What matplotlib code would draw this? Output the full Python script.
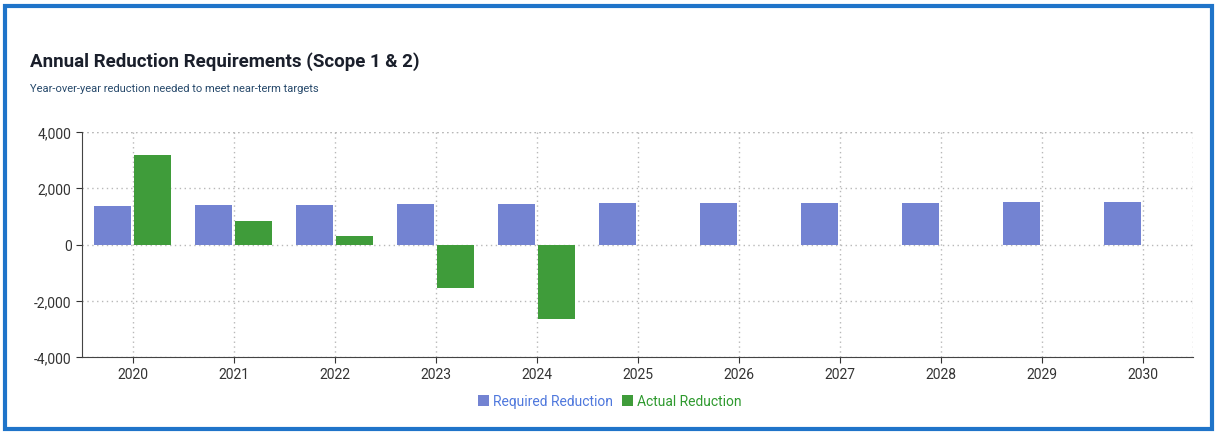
import matplotlib
matplotlib.use("Agg")
import matplotlib.pyplot as plt
import matplotlib.patches as mpatches
import numpy as np

years = ["2020", "2021", "2022", "2023", "2024", "2025", "2026", "2027", "2028", "2029", "2030"]
required = [1380, 1400, 1420, 1440, 1450, 1460, 1470, 1480, 1490, 1500, 1510]
actual = [3200, 820, 320, -1550, -2650, None, None, None, None, None, None]
yticks = [-4000, -2000, 0, 2000, 4000]

blue = "#7383d2"
green = "#3f9c3a"

plt.rcParams["font.family"] = ["Roboto", "DejaVu Sans"]

fig = plt.figure(figsize=(12.19, 4.39), dpi=100)
fig.patch.set_facecolor("white")

# card frame
fig.patches.append(mpatches.Rectangle((0.004, 0.02), 0.99, 0.965, transform=fig.transFigure,
                                      fill=False, edgecolor="#1f74c9", linewidth=3))

ax = fig.add_axes([82 / 1219, 1 - 358 / 439, 1111 / 1219, 225 / 439])

x = np.arange(len(years))
w = 0.37
ax.bar(x - 0.2, required, width=w, color=blue, label="Required Reduction", zorder=3)
act_x = [xi for xi, v in zip(x, actual) if v is not None]
act_v = [v for v in actual if v is not None]
ax.bar(np.array(act_x) + 0.2, act_v, width=w, color=green, label="Actual Reduction", zorder=3)

ax.set_xlim(-0.5, len(years) - 0.5)
ax.set_ylim(-4000, 4000)
ax.set_xticks(x)
ax.set_xticklabels(years)
ax.set_yticks(yticks)
ax.set_yticklabels([f"{t:,}" for t in yticks])
ax.tick_params(labelsize=10, colors="#333333", length=4)

dot = (0, (1, 2.5))
ax.grid(True, color="#b8b8b8", linestyle=dot, linewidth=1, zorder=0)
for s in ["top", "right"]:
    ax.spines[s].set_visible(False)
ax.axhline(4000, color="#b8b8b8", linestyle=dot, linewidth=1, zorder=0)
ax.axvline(len(years) - 0.5, color="#b8b8b8", linestyle=dot, linewidth=1, zorder=0)
ax.spines["left"].set_color("#444444")
ax.spines["bottom"].set_color("#444444")

fig.text(30 / 1219, 1 - 62 / 439, "Annual Reduction Requirements (Scope 1 & 2)",
         fontsize=13.5, fontweight="bold", color="#1a1f2b", va="center")
fig.text(30 / 1219, 1 - 89 / 439, "Year-over-year reduction needed to meet near-term targets",
         fontsize=8, color="#27496b", va="center")

leg = ax.legend(loc="upper center", bbox_to_anchor=(0.475, -0.11), ncol=2, frameon=False,
                fontsize=10, handlelength=0.8, handleheight=0.8, handletextpad=0.3,
                columnspacing=0.6)
for t, c in zip(leg.get_texts(), ["#4f78dd", "#2f9a2f"]):
    t.set_color(c)

fig.savefig("out.png", dpi=100, facecolor="white")
